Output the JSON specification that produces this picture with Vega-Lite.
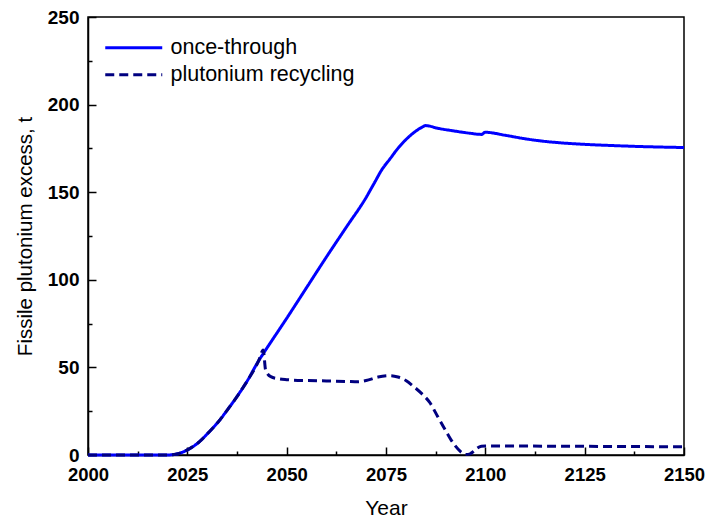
{
  "$schema": "https://vega.github.io/schema/vega-lite/v6.json",
  "width": 596,
  "height": 438,
  "autosize": {"type": "none"},
  "padding": {"left": 88, "top": 17, "right": 21, "bottom": 64},
  "config": {
    "view": {"stroke": "black", "strokeWidth": 1.5},
    "font": "Liberation Sans",
    "background": "white"
  },
  "data": {
    "values": [
      {"series": "once-through", "year": 2000, "value": 0},
      {"series": "once-through", "year": 2010, "value": 0},
      {"series": "once-through", "year": 2020, "value": 0},
      {"series": "once-through", "year": 2022, "value": 0.4},
      {"series": "once-through", "year": 2024, "value": 1.8},
      {"series": "once-through", "year": 2026, "value": 4.2},
      {"series": "once-through", "year": 2028, "value": 7.5},
      {"series": "once-through", "year": 2030, "value": 12},
      {"series": "once-through", "year": 2033, "value": 19.5},
      {"series": "once-through", "year": 2035, "value": 25.5},
      {"series": "once-through", "year": 2038, "value": 35},
      {"series": "once-through", "year": 2040, "value": 42},
      {"series": "once-through", "year": 2043, "value": 54},
      {"series": "once-through", "year": 2044, "value": 57.5},
      {"series": "once-through", "year": 2050, "value": 78},
      {"series": "once-through", "year": 2055, "value": 95.5},
      {"series": "once-through", "year": 2060, "value": 113},
      {"series": "once-through", "year": 2065, "value": 130},
      {"series": "once-through", "year": 2070, "value": 147},
      {"series": "once-through", "year": 2072, "value": 155},
      {"series": "once-through", "year": 2074, "value": 163},
      {"series": "once-through", "year": 2076, "value": 169},
      {"series": "once-through", "year": 2078, "value": 175},
      {"series": "once-through", "year": 2080, "value": 180},
      {"series": "once-through", "year": 2082, "value": 184},
      {"series": "once-through", "year": 2084, "value": 187},
      {"series": "once-through", "year": 2085, "value": 188},
      {"series": "once-through", "year": 2088, "value": 186.5},
      {"series": "once-through", "year": 2092, "value": 185},
      {"series": "once-through", "year": 2096, "value": 183.7},
      {"series": "once-through", "year": 2099, "value": 183},
      {"series": "once-through", "year": 2100, "value": 184.2},
      {"series": "once-through", "year": 2105, "value": 182.5},
      {"series": "once-through", "year": 2110, "value": 180.5},
      {"series": "once-through", "year": 2115, "value": 179},
      {"series": "once-through", "year": 2120, "value": 178},
      {"series": "once-through", "year": 2125, "value": 177.3},
      {"series": "once-through", "year": 2130, "value": 176.8},
      {"series": "once-through", "year": 2140, "value": 176},
      {"series": "once-through", "year": 2150, "value": 175.5},
      {"series": "plutonium recycling", "year": 2000, "value": 0},
      {"series": "plutonium recycling", "year": 2010, "value": 0},
      {"series": "plutonium recycling", "year": 2020, "value": 0},
      {"series": "plutonium recycling", "year": 2022, "value": 0.4},
      {"series": "plutonium recycling", "year": 2024, "value": 1.8},
      {"series": "plutonium recycling", "year": 2026, "value": 4.2},
      {"series": "plutonium recycling", "year": 2028, "value": 7.5},
      {"series": "plutonium recycling", "year": 2030, "value": 12},
      {"series": "plutonium recycling", "year": 2033, "value": 19.5},
      {"series": "plutonium recycling", "year": 2035, "value": 25.5},
      {"series": "plutonium recycling", "year": 2038, "value": 35},
      {"series": "plutonium recycling", "year": 2040, "value": 42},
      {"series": "plutonium recycling", "year": 2043, "value": 54},
      {"series": "plutonium recycling", "year": 2044.1, "value": 60},
      {"series": "plutonium recycling", "year": 2044.7, "value": 48.5},
      {"series": "plutonium recycling", "year": 2046, "value": 44.7},
      {"series": "plutonium recycling", "year": 2048, "value": 43.5},
      {"series": "plutonium recycling", "year": 2050, "value": 43},
      {"series": "plutonium recycling", "year": 2055, "value": 42.5},
      {"series": "plutonium recycling", "year": 2060, "value": 42.3},
      {"series": "plutonium recycling", "year": 2065, "value": 42},
      {"series": "plutonium recycling", "year": 2068, "value": 41.8},
      {"series": "plutonium recycling", "year": 2070, "value": 42.5},
      {"series": "plutonium recycling", "year": 2073, "value": 44.5},
      {"series": "plutonium recycling", "year": 2076, "value": 45.3},
      {"series": "plutonium recycling", "year": 2078, "value": 44.5},
      {"series": "plutonium recycling", "year": 2080, "value": 42.5},
      {"series": "plutonium recycling", "year": 2082, "value": 39},
      {"series": "plutonium recycling", "year": 2084, "value": 35},
      {"series": "plutonium recycling", "year": 2086, "value": 30},
      {"series": "plutonium recycling", "year": 2088, "value": 22},
      {"series": "plutonium recycling", "year": 2090, "value": 14},
      {"series": "plutonium recycling", "year": 2092, "value": 6.5},
      {"series": "plutonium recycling", "year": 2094, "value": 1.5},
      {"series": "plutonium recycling", "year": 2095, "value": 0.3},
      {"series": "plutonium recycling", "year": 2096, "value": 0.5},
      {"series": "plutonium recycling", "year": 2097, "value": 2},
      {"series": "plutonium recycling", "year": 2098, "value": 4},
      {"series": "plutonium recycling", "year": 2099, "value": 5},
      {"series": "plutonium recycling", "year": 2100, "value": 5.2},
      {"series": "plutonium recycling", "year": 2110, "value": 5.1},
      {"series": "plutonium recycling", "year": 2120, "value": 5},
      {"series": "plutonium recycling", "year": 2130, "value": 4.9},
      {"series": "plutonium recycling", "year": 2140, "value": 4.8},
      {"series": "plutonium recycling", "year": 2150, "value": 4.7}
    ]
  },
  "layer": [
    {
      "mark": {"type": "line", "strokeWidth": 3, "interpolate": "monotone"},
      "encoding": {
        "x": {
          "field": "year", "type": "quantitative",
          "scale": {"domain": [2000, 2150], "nice": false, "zero": false},
          "axis": {
            "orient": "bottom",
            "values": [2000, 2025, 2050, 2075, 2100, 2125, 2150],
            "format": "d", "grid": false, "ticks": false,
            "domainColor": "black", "domainWidth": 1.5,
            "labelFontSize": 18.5, "labelFontWeight": "bold", "labelColor": "black",
            "labelPadding": 10, "labelFlush": false, "labelOverlap": false,
            "title": "Year", "titleFontSize": 21, "titleFontWeight": "normal",
            "titleColor": "black", "titlePadding": 14
          }
        },
        "y": {
          "field": "value", "type": "quantitative",
          "scale": {"domain": [0, 250], "nice": false},
          "axis": {
            "orient": "left",
            "values": [0, 50, 100, 150, 200, 250],
            "grid": false, "ticks": false,
            "domainColor": "black", "domainWidth": 1.5,
            "labelFontSize": 19, "labelFontWeight": "bold", "labelColor": "black",
            "labelPadding": 9, "labelFlush": false, "labelOverlap": false,
            "title": "Fissile plutonium excess, t", "titleFontSize": 20.5, "titleFontWeight": "normal",
            "titleColor": "black", "titlePadding": 12
          }
        },
        "color": {
          "field": "series", "type": "nominal",
          "scale": {"domain": ["once-through", "plutonium recycling"], "range": ["#0000ff", "#000080"]},
          "legend": {
            "orient": "none", "legendX": 35, "legendY": 20, "title": null,
            "symbolType": "M-4,0H4", "symbolSize": 203, "symbolStrokeWidth": 3,
            "labelFontSize": 21.5, "labelColor": "black", "labelOffset": 26, "labelLimit": 400,
            "rowPadding": 4, "padding": 0
          }
        },
        "strokeDash": {
          "field": "series", "type": "nominal",
          "scale": {"domain": ["once-through", "plutonium recycling"], "range": [[1, 0], [9, 5]]},
          "legend": {
            "orient": "none", "legendX": 35, "legendY": 20, "title": null,
            "symbolType": "M-4,0H4", "symbolSize": 203, "symbolStrokeWidth": 3,
            "labelFontSize": 21.5, "labelColor": "black", "labelOffset": 26, "labelLimit": 400,
            "rowPadding": 4, "padding": 0
          }
        }
      }
    },
    {
      "mark": {"type": "line", "opacity": 0},
      "encoding": {
        "x": {
          "field": "year", "type": "quantitative",
          "axis": {
            "orient": "top", "offset": -438,
            "values": [2000, 2025, 2050, 2075, 2100, 2125, 2150],
            "labels": false, "domain": false, "grid": false, "title": null,
            "tickSize": 8, "tickWidth": 1.5, "tickColor": "black"
          }
        },
        "y": {
          "field": "value", "type": "quantitative",
          "axis": {
            "orient": "right", "offset": -596,
            "values": [0, 50, 100, 150, 200, 250],
            "labels": false, "domain": false, "grid": false, "title": null,
            "tickSize": 8, "tickWidth": 1.5, "tickColor": "black"
          }
        }
      }
    },
    {
      "mark": {"type": "line", "opacity": 0},
      "encoding": {
        "x": {
          "field": "year", "type": "quantitative",
          "axis": {
            "orient": "top", "offset": -438,
            "values": [2012.5, 2037.5, 2062.5, 2087.5, 2112.5, 2137.5],
            "labels": false, "domain": false, "grid": false, "title": null,
            "tickSize": 4, "tickWidth": 1.5, "tickColor": "black"
          }
        },
        "y": {
          "field": "value", "type": "quantitative",
          "axis": {
            "orient": "right", "offset": -596,
            "values": [25, 75, 125, 175, 225],
            "labels": false, "domain": false, "grid": false, "title": null,
            "tickSize": 4, "tickWidth": 1.5, "tickColor": "black"
          }
        }
      }
    }
  ],
  "resolve": {"axis": {"x": "independent", "y": "independent"}}
}
